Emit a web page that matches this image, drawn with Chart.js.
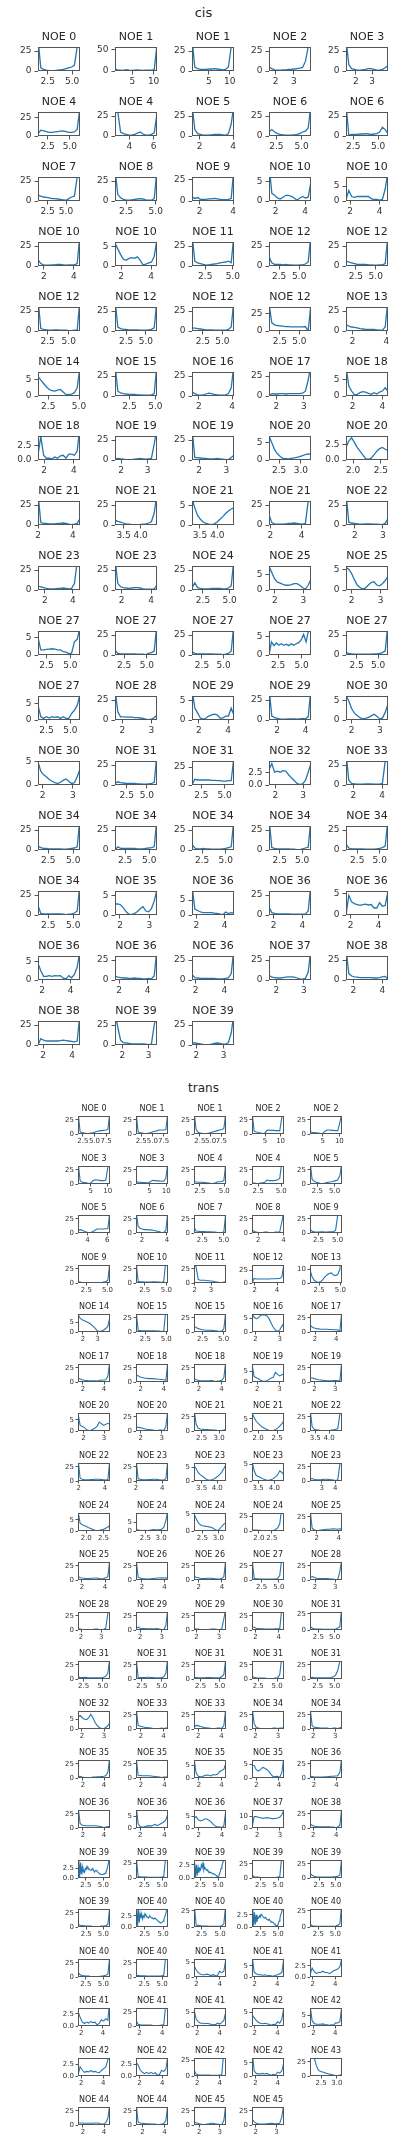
<!DOCTYPE html>
<html>
<head>
<meta charset="utf-8">
<script src="https://cdn.jsdelivr.net/npm/chart.js@4.4.1/dist/chart.umd.min.js"></script>
<style>
  html, body { margin: 0; padding: 0; background: #fff; overflow: hidden; }
  #page { position: relative; width: 407px; height: 2152px; overflow: hidden; background: #fff; }
  .sup { position: absolute; left: 0; width: 407px; text-align: center; font-family: "DejaVu Sans", sans-serif; color: #262626; line-height: 16px; }
  canvas { position: absolute; }
</style>
</head>
<body>
<div id="page">
  <div class="sup" style="top:5px;font-size:13px">cis</div>
  <div class="sup" style="top:1080px;font-size:12px">trans</div>
</div>
<script>
// ---------- cis ----------
const cisTitles = [0,1,1,2,3, 4,4,5,6,6, 7,8,9,10,10, 10,10,11,12,12, 12,12,12,12,13, 14,15,16,17,18,
  18,19,19,20,20, 21,21,21,21,22, 23,23,24,25,25, 27,27,27,27,27, 27,28,29,29,30, 30,31,31,32,33,
  34,34,34,34,34, 34,35,36,36,36, 36,36,36,37,38, 38,39,39];

const cisXRange = [[1.5,5.8],[0.9,10.8],[1.0,11.0],[1.63,3.94],[1.4,3.98],
  [1.42,6.15],[2.8,6.28],[1.54,4.06],[1.77,5.93],[1.77,6.0],
  [1.2,6.9],[1.56,5.11],[1.54,4.06],[1.54,4.41],[1.73,4.56],
  [1.61,4.41],[1.6,4.4],[1.3,5.1],[1.25,6.46],[1.25,6.54],
  [1.37,6.33],[1.1,6.4],[1.1,6.5],[1.1,6.5],[1.61,4.1],
  [1.67,5.08],[1.1,5.16],[1.58,4.12],[1.73,3.26],[1.56,4.38],
  [1.59,4.41],[1.77,3.35],[1.74,3.28],[2.27,3.23],[1.87,2.63],
  [2.0,4.41],[3.25,4.48],[3.27,4.48],[1.91,4.6],[1.68,3.18],
  [1.51,4.51],[1.55,4.39],[1.47,5.41],[1.79,3.27],[1.81,3.25],
  [1.61,6.0],[1.51,6.1],[1.35,6.19],[1.54,6.0],[1.27,6.15],
  [1.61,6.0],[1.74,3.2],[1.52,4.41],[1.44,4.38],[1.8,3.29],
  [1.85,3.24],[1.04,6.25],[1.5,6.0],[1.77,3.28],[1.5,4.4],
  [1.47,5.68],[1.46,5.8],[1.44,5.87],[1.31,5.98],[1.25,5.92],
  [1.47,5.68],[1.83,3.26],[1.69,4.66],[1.67,4.61],[1.67,4.66],
  [1.72,4.66],[1.72,4.66],[1.74,4.68],[1.73,3.26],[1.5,4.39],
  [1.65,4.54],[1.72,3.32],[1.84,3.38]];

const cisXTicks = [[2.5,5],[5,10],[5,10],[2,3],[2,3],
  [2.5,5],[4,6],[2,4],[2.5,5],[2.5,5],
  [2.5,5],[2.5,5],[2,4],[2,4],[2,4],
  [2,4],[2,4],[2.5,5],[2.5,5],[2.5,5],
  [2.5,5],[2.5,5],[2.5,5],[2.5,5],[2,4],
  [2.5,5],[2.5,5],[2,4],[2,3],[2,4],
  [2,4],[2,3],[2,3],[2.5,3],[2,2.5],
  [2,4],[3.5,4],[3.5,4],[2,4],[2,3],
  [2,4],[2,4],[2.5,5],[2,3],[2,3],
  [2.5,5],[2.5,5],[2.5,5],[2.5,5],[2.5,5],
  [2.5,5],[2,3],[2,4],[2,4],[2,3],
  [2,3],[2.5,5],[2.5,5],[2,3],[2,4],
  [2.5,5],[2.5,5],[2.5,5],[2.5,5],[2.5,5],
  [2.5,5],[2,3],[2,4],[2,4],[2,4],
  [2,4],[2,4],[2,4],[2,3],[2,4],
  [2,4],[2,3],[2,3]];

const cisYTicks = [[0,25],[0,50],[0,25],[0,25],[0,25],
  [0,25],[0,25],[0,25],[0,25],[0,25],
  [0,25],[0,25],[0,25],[0,5],[0,5],
  [0,25],[0,5],[0,25],[0,25],[0,25],
  [0,25],[0,25],[0,25],[0,25],[0,25],
  [0,5],[0,25],[0,25],[0,25],[0,5],
  [0,2.5],[0,25],[0,25],[0,5],[0,2.5],
  [0,25],[0,25],[0,5],[0,25],[0,25],
  [0,25],[0,25],[0,25],[0,5],[0,5],
  [0,5],[0,25],[0,25],[0,5],[0,25],
  [0,5],[0,25],[0,5],[0,25],[0,5],
  [0,5],[0,25],[0,25],[0,2.5],[0,25],
  [0,25],[0,25],[0,25],[0,25],[0,25],
  [0,25],[0,5],[0,5],[0,25],[0,5],
  [0,5],[0,25],[0,25],[0,25],[0,25],
  [0,25],[0,25],[0,25]];

const cisYMax = [30,55,30,30,30, 32.7,30,30,30,30, 30,30,28,6.3,8, 30,6.3,30,30,30,
  30,30,30,35,30, 7.3,30,30,30,7.3, 4.06,30,30,7,3.8, 30,30,6.3,30,30,
  30,30,30,7.6,5.8, 6.9,30,30,6.4,30, 7.4,30,6.1,30,6.3, 5.2,30,33.5,4.7,30,
  30,30,30,30,30, 30,6.1,8,30,5.5, 6.5,30,30,30,30, 30,30,30];

const cisCurves = [
  [40,4,2,1,0.5,0.5,0.5,1,1.5,2,3,4,5,7,30,30],
  [5,2,2,1.5,3,2,1.5,2,2.5,2,1.5,2,2,2,3,60],
  [40,5,3,2,2,2,2.5,2.5,3,2.5,2,1.5,2,5,30,30],
  [5,3,1.5,1,1,1.5,1.5,2,2,2.5,3,3.5,4.5,12,30,30],
  [40,8,3,2,1,1,1.5,2,3,3,2,1,1,2,4,7],
  [3,8,7,6,5,5,5.5,6,6.5,7,6,5,5,5.5,9,40],
  [40,30,5,3,2,1,1,2,3.5,5,2.5,1,1,2,4,28],
  [40,8,3,2,1,1,1,1.5,2,2,2,1.5,1,3,15,40],
  [5,8,5,3,2,1.5,1,1,1,1.5,2,3,5,6,10,40],
  [40,1,2,2,2,2.5,2.5,3,2.5,2,2.5,3,5,11,8,3],
  [7,6,5,4.5,4,3,3,2.5,2,1.5,1,3,5,6,30,30],
  [40,8,4,2,1,1,1.5,2,2.5,3,2.5,1.5,1,1,3,40],
  [5,3,4,2,2,2,2.5,2.5,3,2.5,2,1.5,1.5,2,3,40],
  [10,2,1.5,0.8,0.5,1,1.5,1.5,1.2,0.8,0.2,0.8,1.2,0.8,1,5],
  [0.5,3.5,1.5,1.2,1.5,1.5,1.5,1.5,1.5,0.8,0.5,0.5,0.3,0.5,4,10],
  [8,3,1.5,1,1,1.5,1.5,2,2,1.5,1,1.5,1.5,1.5,3,40],
  [6,4.5,3,1.8,1.5,2,2.2,2,2.4,1.5,0.3,0.5,0.8,1,2.5,7],
  [40,6,4,3,2,1,1.5,2,2.5,3,4,4.5,5,6,4,40],
  [12,4,2,2,2,1.5,2,1.5,1.5,1,1,1.5,1.5,2.5,5,40],
  [6,5,4,3,2,2,2,2,1.5,1.5,1,1,1.5,1.5,3,40],
  [40,3,2,1.5,1,1,1.5,1.5,1,1,1,0.5,0.5,1,1.5,40],
  [40,5,3,2,2,1.5,1.5,1.5,1.5,1,1,1,1.5,2,4,40],
  [4,3.5,3,2.5,2,1.5,1.5,1.5,1,1,1,1,1,2,5,40],
  [40,12,9,8,7.5,7,6.5,6.5,6,6,6,6,6,6.5,0,40],
  [8,6,5,4.5,4,3,2.5,2,2,2,2,1.5,1,1,5,40],
  [6,4.8,3.8,2.8,2,1.6,1.5,1.8,2,1.2,0.4,0.5,0.6,1,2.5,9],
  [40,6,4,3,2.5,2,2,2,1.5,1.5,1,1,1,1.5,3,40],
  [5,3,1.5,1,1.5,2.5,3.5,3,2,1.5,1,1,1.5,3,10,40],
  [0,3,2.5,2.5,3,3,2.5,3,3,3,3,3,3.5,6,20,40],
  [9,3,1.5,0.4,0.5,1,1.3,1.2,0.8,0.5,1,0.6,1.2,1.5,2.5,1.5],
  [0.8,4,0.8,0.3,0.3,0.2,0.5,0.3,0.7,0.8,0.3,1,1,0.8,1.5,6],
  [1,2,1.5,1,0.5,0.5,0.5,1,1.5,2,1.5,1,1.5,2,20,40],
  [40,3,3,2.5,2,2,1.5,1.5,1.5,2,1.5,1,0.5,0.5,3,6],
  [7,5,3,1.8,1,0.5,0.4,0.3,0.5,0.6,0.8,1,1.3,1.6,1.8,1.7],
  [2,3,3.5,2.8,2,1.4,0.8,0.2,0.1,0.3,0.8,1.4,1.8,2,1.7,1.5],
  [40,3,2,2,1.5,1.5,1.5,2,2,2.5,2,1,0.5,1,2,8],
  [6,4.5,3.5,2.5,1.5,1,0.5,0.3,0.3,0.5,1,1.5,2.5,4,15,40],
  [7,4.5,2.5,1.5,0.8,0.4,0.2,0.1,0.3,0.8,1.5,2.2,3,3.7,4.2,4.5],
  [13,3,1.5,1,1,1,1.5,2,2,2.5,2,1.5,1,2,30,40],
  [40,3.5,2.5,2,1.5,1,1,1.5,1.5,1.5,1.2,1,0.8,0.5,2,8],
  [5,4,3,2,1.5,1.5,1.5,2,2,2.5,2,1.5,2,8,35,40],
  [40,8,4,3,2.5,2,2.5,3,3,2.5,1.5,1,1,1,1.5,6],
  [3,9,3,2,1.5,1.5,1.5,2,2,2,2,1.5,1.5,2.5,5,40],
  [7.5,5.5,3.5,2.5,2.2,1.8,1.5,1.5,1.7,2,2,1.5,0.7,0.3,1.5,3.5],
  [5.5,5,4,2.5,1.2,0.6,0.2,0.5,1.2,1.8,2,1.2,1,1.5,2.3,3.2],
  [5,1.5,1.5,1.6,1.7,1.8,1.7,1.5,1.5,1,0.8,0.4,0.5,3.8,4.5,8],
  [6,2,1.5,1.5,1.5,1.5,1.5,1.5,1,1,1,0.5,2,3,5,40],
  [4,2,1.5,1.5,1.5,1.5,1.5,1.5,1,1,1,0.5,1,2,5,40],
  [0,3.5,2.5,3.2,2.6,3,2.6,2.9,2.5,3,2.6,3,3.3,4,5.5,3.5,6.5,7],
  [3,2,1.5,1,1,1,1,1,1,1,1.5,1.5,2,3,5,40],
  [4.5,1,0.5,1,0.6,1,0.8,1,0.5,1,0.5,0.5,2,3,4.5,8],
  [40,10,4,4,3.5,3.5,3.5,3,3,2.5,2,1,0.5,1,3,6],
  [8,3,1.8,0.5,0.2,0.5,1,1.3,1.5,1.3,0.5,0.5,1,1,3,1.2],
  [40,5,3,2,1,1,1,1.5,1.5,1.5,1,1.5,2,1.5,4,40],
  [6.5,5,3,1.8,1.2,0.6,0.3,0.4,0.7,1.1,1.5,1,0.3,0.5,2,4.2],
  [5,3,2.2,1.8,1.2,0.8,0.5,0.3,0.6,1,1.3,0.8,0.3,0.5,1.8,3.5],
  [2,4,3,2.5,2,2,2,2,1.5,1.5,1,1,1.5,2,3,40],
  [0,8,7,7,7,7,7,6.5,6.5,6,6,5.5,5.5,6,6,40],
  [3,4.2,2.5,2.7,2.5,2.8,2.7,2,1.4,0.9,0.3,0.1,0.2,0.9,2.5,4.2],
  [40,6,2,1.5,1,1,1,1.5,1.5,1.5,1.2,1,1,2,30,40],
  [5,3,2,2,1.5,1.5,1.5,1.5,1.5,1,1,1.5,2,2.5,4,40],
  [0,4,2,2,2,2,2,2,1.5,1.5,1.5,2,2.5,3,4,40],
  [7,2.5,1.5,1.5,2,1.5,1.5,1,1,1,1,1.5,2,3,4,40],
  [40,3,2,1.5,1.5,1.5,1.5,1.5,1,1,0.5,0.5,1.5,2.5,3.5,40],
  [7,2.5,1.5,1.5,1.5,1.5,1.5,1,1,1,1,1.5,2,3,5,40],
  [12,2,1.5,1.5,1.5,1.5,1.5,1.5,1.5,1,0.5,1,1.5,2.5,5,40],
  [2.8,2.8,2.6,1.8,0.8,0.2,0.1,0.4,0.9,1.6,2.1,1,0.8,1.6,3.5,6.5],
  [10,2,1.5,1,0.8,0.8,0.8,0.8,0.6,0.5,0.3,0.1,1,0.5,0.8,0.6],
  [10,3,2,1.5,1.5,1.5,1.5,1.5,1,1,1,1,1,1,5,40],
  [0,4.5,3,2.6,2.4,2.2,2.4,2.5,2.3,2.4,1.6,1.6,2.8,2,2.2,5.5],
  [4.5,2.5,1,1,1.2,1,1.2,1.1,1.2,0.5,0.3,1.2,0.6,1.5,3.5,8],
  [5,3.5,3,2.5,2.5,2,2,2.5,2,2,1.5,1.5,2,1.5,5,40],
  [7,3,2.5,2,2,2,2,2,2,1.5,1.5,1.5,2,2.5,8,40],
  [6,3.5,3,2.5,2.5,3,3.5,4,4,3.5,2.5,1.5,1,2,10,40],
  [40,8,5,4,3.5,3,3,3,3,3,2.5,2.5,3,4,4.5,1],
  [0,8,6,5,5,5,5,5,5.5,6,5.5,5,4.5,4,5,40],
  [40,22,6,3,2.5,2,1.5,1.5,1.5,1.5,1.5,1,0.5,1,25,40],
  [3,2.5,2,1.5,0.8,0.5,0.5,1,2,2.5,2,1,1,3,15,40]
];

// ---------- trans ----------
const transTitles = [0,1,1,2,2, 3,3,4,4,5, 5,6,7,8,9, 9,10,11,12,13, 14,15,15,16,17, 17,18,18,19,19,
  20,20,21,21,22, 22,23,23,23,23, 24,24,24,24,25, 25,26,26,27,28, 28,29,29,30,31, 31,31,31,31,31,
  32,33,33,34,34, 35,35,35,35,36, 36,36,36,37,38, 39,39,39,39,39, 39,40,40,40,40, 40,40,41,41,41,
  41,41,41,42,42, 42,42,42,42,43, 44,44,45,45];

const transXRange = [[1.43,8.36],[1.33,8.5],[1.13,8.6],[0.78,11.1],[1.12,10.8],
  [1.18,10.7],[0.94,10.5],[1.89,5.18],[1.83,5.3],[1.44,6.07],
  [3.03,6.27],[1.53,4.08],[1.52,5.27],[1.51,4.05],[1.4,5.57],
  [1.52,5.3],[1.49,5.2],[1.96,3.91],[1.75,4.62],[1.43,5.2],
  [1.66,3.86],[1.38,5.21],[1.46,5.29],[1.86,3.17],[1.52,4.54],
  [1.53,4.56],[1.58,4.37],[1.57,4.4],[1.77,3.2],[1.79,3.32],
  [1.73,3.29],[1.77,3.3],[2.28,3.2],[1.84,2.68],[3.31,4.47],
  [1.95,4.38],[2.0,4.45],[3.26,4.28],[3.31,4.3],[2.13,4.5],
  [1.76,2.69],[2.2,3.22],[2.24,3.24],[1.74,2.96],[1.38,4.31],
  [1.66,4.43],[1.48,4.31],[1.58,4.36],[1.1,5.75],[1.75,3.33],
  [1.85,3.44],[1.81,3.29],[1.89,3.31],[1.71,4.44],[1.2,6.15],
  [1.77,5.95],[1.75,5.79],[1.64,5.82],[1.68,5.91],[1.35,6.1],
  [1.82,3.27],[1.57,4.4],[1.64,4.39],[1.85,3.26],[1.85,3.31],
  [1.53,4.56],[1.59,4.29],[1.57,4.4],[1.6,4.46],[1.64,4.5],
  [1.53,4.56],[1.66,4.29],[1.58,4.36],[1.77,3.18],[1.71,4.5],
  [1.37,5.95],[1.32,5.83],[1.6,6.1],[1.27,5.83],[1.15,5.9],
  [1.3,5.96],[1.32,5.66],[1.46,5.8],[1.27,5.83],[1.25,6.0],
  [1.37,5.94],[1.32,5.83],[1.79,4.54],[1.75,4.6],[1.76,4.6],
  [1.71,4.65],[1.69,4.52],[1.72,4.55],[1.75,4.58],[1.69,4.62],
  [1.72,4.6],[1.69,4.52],[1.72,4.55],[1.69,4.55],[2.15,3.16],
  [1.53,4.56],[1.4,4.32],[1.75,3.31],[1.82,3.37]];

const transXTicks = [[2.5,5,7.5],[2.5,5,7.5],[2.5,5,7.5],[5,10],[5,10],
  [5,10],[5,10],[2.5,5],[2.5,5],[2.5,5],
  [4,6],[2,4],[2.5,5],[2,4],[2.5,5],
  [2.5,5],[2.5,5],[2,3],[2,4],[2.5,5],
  [2,3],[2.5,5],[2.5,5],[2,3],[2,4],
  [2,4],[2,4],[2,4],[2,3],[2,3],
  [2,3],[2,3],[2.5,3],[2,2.5],[3.5,4],
  [2,4],[2,4],[3.5,4],[3.5,4],[3,4],
  [2,2.5],[2.5,3],[2.5,3],[2,2.5],[2,4],
  [2,4],[2,4],[2,4],[2.5,5],[2,3],
  [2,3],[2,3],[2,3],[2,4],[2.5,5],
  [2.5,5],[2.5,5],[2.5,5],[2.5,5],[2.5,5],
  [2,3],[2,4],[2,4],[2,3],[2,3],
  [2,4],[2,4],[2,4],[2,4],[2,4],
  [2,4],[2,4],[2,4],[2,3],[2,4],
  [2.5,5],[2.5,5],[2.5,5],[2.5,5],[2.5,5],
  [2.5,5],[2.5,5],[2.5,5],[2.5,5],[2.5,5],
  [2.5,5],[2.5,5],[2,4],[2,4],[2,4],
  [2,4],[2,4],[2,4],[2,4],[2,4],
  [2,4],[2,4],[2,4],[2,4],[2.5,3],
  [2,4],[2,4],[2,3],[2,3]];

const transYTicks = [[0,25],[0,25],[0,25],[0,25],[0,25],
  [0,25],[0,25],[0,25],[0,25],[0,25],
  [0,25],[0,25],[0,25],[0,25],[0,25],
  [0,25],[0,25],[0,25],[0,25],[0,10],
  [0,5],[0,25],[0,25],[0,5],[0,25],
  [0,25],[0,25],[0,25],[0,5],[0,25],
  [0,5],[0,25],[0,25],[0,5],[0,25],
  [0,25],[0,25],[0,5],[0,5],[0,25],
  [0,5],[0,5],[0,5],[0,25],[0,25],
  [0,25],[0,25],[0,25],[0,25],[0,25],
  [0,25],[0,25],[0,25],[0,25],[0,25],
  [0,25],[0,25],[0,25],[0,25],[0,25],
  [0,5],[0,25],[0,25],[0,25],[0,25],
  [0,25],[0,25],[0,5],[0,5],[0,25],
  [0,25],[0,5],[0,5],[0,10],[0,25],
  [0,2.5],[0,25],[0,2.5],[0,25],[0,25],
  [0,25],[0,2.5],[0,25],[0,2.5],[0,25],
  [0,25],[0,25],[0,5],[0,5],[0,2.5],
  [0,2.5],[0,25],[0,5],[0,5],[0,5],
  [0,2.5],[0,2.5],[0,25],[0,5],[0,25],
  [0,25],[0,25],[0,25],[0,25]];

const transYMax = [32,32,32,32,32, 32,32,32,32,32, 32,32,32,32,32, 32,32,32,36,13.4,
  9.3,32,32,6.75,32, 32,32,32,8.3,32, 8,32,32,7.4,32, 32,32,6.5,5.3,32,
  8.1,10.4,5.2,30,32, 32,32,32,32,32, 32,32,32,32,28, 32,32,32,32,32,
  9.6,32,32,32,32, 32,32,7.2,6.5,32, 32,7.6,7.6,15,32, 4.65,31,3.4,32,32,
  32,4.06,28,3.7,28, 32,32,6.2,8.1,4.06, 3.7,32,6.5,6.5,8.5, 3.9,3.9,29,6.9,32,
  32,32,32,32];

const transCurves = [
  [40,4,2,1.5,1,1,1.5,2,3.5,5,5.5,6,6.5,7,8,40],
  [40,4,2,1.5,1,1,1.5,2.5,4,5,6,7,7,7,8,40],
  [40,8,3,1.5,1,0.5,1,1.5,2.5,4,5,6,7,8,10,40],
  [40,5,3.5,3,1.5,1,1.5,6.5,7,6.5,6.5,6,6,5.5,30,40],
  [4,3,2.5,2,1.5,1,1,5,7,7,6.5,6.5,6,6,20,40],
  [40,6,3,2.5,2,1,1.5,6,7.5,7,6.5,6,6,6.5,30,40],
  [5,3,3,2.5,2.5,2,2,5,6.5,6,5.5,5.5,5,5,10,40],
  [5,3.5,3,3,3,2.5,2,1.5,1,1,2,4,4,4.5,6,40],
  [2,1.5,1,1,1.5,2,3,7,6,6,6,6.5,7.5,10,40,40],
  [40,8,5,3,2,1,1,1.5,2.5,3.5,4,5,6,7,15,40],
  [5,6,5,3,1.5,0.5,1,2.5,5,7,7,7,7,7.5,8,40],
  [40,12,8,7,6,6,5.5,5.5,5,4,3,2,1,0.5,5,40],
  [10,3.5,3,2.5,2.5,2.5,2,2,2,1.5,1.5,1,1,0.5,2,40],
  [6,3,1.5,1,1,1,1.5,1.5,1,1,1,1.5,1.5,2,20,40],
  [7,3,2,1.5,1.5,2,2,1.5,1.5,2,2,2,5,32,32,32],
  [3,1.5,1,1,1,1,1,1,1,1,1,1,1.5,2,5,40],
  [40,3,2,2,1.5,1.5,1.5,1.5,2,2,1.5,1.5,1,3,40,40],
  [40,28,6,5,5,5,4,4,3.5,3,2,1.5,1,0.5,1.5,3],
  [0,9,8,8,8,8,8,8,8,8.5,8.5,8.5,9,9,12,40],
  [10,4.5,2,1,0.5,1,2.5,4.5,6,7,7.5,6,5.5,6.5,10,40],
  [9,7.2,6.3,5.8,5.3,4.8,4,3,2,0.6,0.3,0.5,1,1.8,3,8],
  [40,3,2.5,2,2,2,2,2,2,2,1.5,1.5,1,1.5,40,40],
  [10,8,6,5,4,3.5,3,3,3,2.5,2,1.5,1,1.5,6,40],
  [7,5.5,5,5.3,6.2,6.5,6.4,6,5,3.3,1.8,0.7,0.2,0.8,2.2,3.5],
  [12,9,7,6,5.5,5,5,5,5,4.5,4.5,4,4,3.5,2,40],
  [7,5.5,4,3,2.5,2,2,2,2,1.5,3,3,3.5,4,10,40],
  [12,11,9,8,7,6.5,6,6,6,5.5,5,5,4.5,4,3,40],
  [6,4,3,2,2,2,2,2,2.5,2,1,1.5,2,3,8,40],
  [8,2.5,2,1.5,0.8,0.4,0.3,0.6,1.2,1.8,2.2,4.5,3.5,2.8,3.3,3.8],
  [8,7,6,5,4,3.5,3,2.5,2,2,2,2.5,2.5,2,2,40],
  [8,2.5,2,1.5,0.6,0.2,0.3,0.8,1.3,2.2,4,3.2,2.5,3,3.3,3.6],
  [7,6.5,6,5,4,3,2.5,2,1.5,1,1,1.5,1.5,1,8,40],
  [40,12,5,3.5,3,2.5,2.5,2,2,1.5,1.5,1,1,1,1.5,2.5],
  [7.5,5.5,4,3,2.2,1.5,1,0.6,0.3,0.1,0.2,0.6,1.2,2,3,4.3],
  [40,8,3,2,1.5,1,1,1,1,1,1.5,2,3,4,30,40],
  [40,5,3,2,2,2,2.5,2.5,3,3,3,2.5,2,1.5,3,40],
  [40,4,3,2,2,2,2.5,2.5,3,3,2.5,2,1.5,1.5,4,40],
  [5.5,4.5,3,2.2,1.7,1.1,0.5,0.3,0.3,0.6,1.1,1.6,2.3,3.2,4.5,6],
  [6,3,1.6,1.3,1,0.7,0.4,0.2,0.2,0.4,0.7,1.2,1.8,3,2.5,1.7],
  [3,4.5,3,2,2,2,2.5,3,3,2.5,2,1.5,1,2,30,40],
  [9,3.5,2.8,2.4,2,1.5,1.1,0.7,0.3,0.2,0.3,0.5,0.8,1.2,1.8,2.6],
  [1,0.5,0.4,0.3,0.4,0.3,0.4,0.6,0.8,0.7,0.7,0.8,1,2,6,12],
  [5,3.5,2.4,1.8,1.5,1.4,1.3,1.2,1.1,0.8,0.4,0.1,0.6,1.3,2,2.4],
  [1.5,1.5,1.5,1,1,0.5,0.5,0.5,0.5,0.5,1,2.5,5,12,40,40],
  [40,5,2,1,1,1.5,2,2.5,3,3,3.5,4,3.5,3,4,3],
  [6,4.5,3.5,3,2.5,2.5,3,3,3.5,3.5,2.5,2,2.5,4,6,40],
  [40,5,3.5,2.5,2,1.5,1.5,2,2.5,3,3.5,3.5,4,3.5,4,2.5],
  [6,5,4,3,2.5,2.5,3,3,3,2.5,2,1.5,1.5,3,6,40],
  [40,3,2,2,1.5,1.5,1.5,1.5,1.5,1.5,1.5,1.5,2.5,8,40,40],
  [4,6,5,3,2.5,2.5,2.5,2.5,2.5,2,1.5,1.5,1,1,15,40],
  [2,1.5,1,1,1,1,1,1,1.5,1.5,1,0.5,1,3,30,40],
  [4,5,3,2.5,2.5,2,2,2,2,2,2.5,1.5,1,0.5,8,40],
  [2,1.5,1.5,1,1,1,1,1,1.5,1.5,1.5,1,1,2,20,40],
  [5,5,3,2.5,2,2,1.5,1.5,1.5,1.5,1.5,2,2,2,40,40],
  [5,3,2,1.5,1.5,1.5,1,1,1,1,1,1,1.5,3,5,40],
  [4,2.5,2.5,3,2.5,2,2,2,2,2,2,2,3,5,10,40],
  [40,3,2.5,2.5,2.5,3,3,2.5,2.5,2,2,2,2.5,4,10,40],
  [3,2.5,2,2,2,2,2.5,2.5,2.5,2,2,2,2.5,4,8,40],
  [5,3,2,1.5,1.5,1.5,1.5,1,1,1,1,1.5,2,8,40,40],
  [2,3,2,2,2,2,2,2,2,2,2.5,4,7,15,32,32],
  [6.5,7.2,6,5.2,5,6,7.8,6,3.5,1.8,0.8,0.3,0.2,0.8,1.8,3.3],
  [40,6,5,4,3,2.5,2,1.5,1,1,1,1,1.5,1,1.5,3],
  [3,6.5,6,4.5,3.5,2.5,2,1.5,1,1,1,1.5,1.5,1,6,40],
  [40,10,2.5,1.5,1,1,1,1,1,1,1.5,1.5,1,1.5,1.5,2],
  [40,6,3,2.5,2,1.5,1.5,1.5,1.5,1,1,1.5,1.5,1,2,4],
  [3,2.5,1.5,1,1,1,1,1.5,1.5,2,2,2.5,3,4,10,40],
  [40,5,4.5,4,4,4,4,3.5,3,2.5,2,1.5,1,1.5,1.5,3],
  [8,2,0.7,0.5,0.6,1,1.2,1.1,0.8,1.4,1.2,1.5,2.5,3,3.5,6],
  [4.5,4.5,3,2.5,3,3.8,3.5,3,2.3,1.2,0.4,0.5,0.6,0.2,2,8],
  [3,2.5,1.5,1.5,1.5,1.5,1.5,2,2,2.5,3,3,3.5,4,10,40],
  [40,8,5,4.5,4,4,4,4,4,3.5,3,2,1,1.5,2.5,2],
  [10,1.8,0.6,0.3,0.5,0.8,1,0.8,1.2,1.5,1,1.5,2,2.5,3.5,6],
  [4,4.8,3.5,3,3.3,3.8,3.8,3.3,2.6,1.5,0.8,0.4,0.5,0.1,1,8],
  [0,9.5,9.5,9,8.5,8,8.3,8.6,8.3,8,7.8,8,8.3,9,11,15],
  [7,5,3,2.5,2,2,2,2,2,2,1.5,1.5,1,1.5,5,40],
  [0.5,4.5,0.2,4,1,3,1.5,2,1.5,2.5,2.2,3,2.5,2.5,2.2,2,2,2.3,2.5,2,
   1.5,1.8,2,1.8,1.5,1.3,1.2,1,1,0.9,0.9,1,1,1.2,1.5,2,2.8,3.8,5,6],
  [40,3,2,1.5,1.5,1.5,1,1,1,1,1,1,1.5,2.5,40,40],
  [0.3,2.8,0.2,2.5,0.5,2,1,1.8,1.5,2.5,2,2.8,1.5,2,1.8,1.5,1.6,1.3,1.2,1,
   1.1,1,0.9,0.8,0.8,0.7,0.6,0.5,0.3,0.2,0.3,0.8,1.2,1.8,2.3,2.8,3.3,4,5,6],
  [6,2,1.5,1.5,1,1,1,1,1,1,1,1,1.5,2,40,40],
  [8,5,3,2,1.5,1.5,1.5,1.5,1.5,1.5,1.5,2,2,3,5,40],
  [5,3,2.5,2,1.5,1.5,1.5,1,1,1,1,1.5,1.5,2,5,40],
  [0.5,4,0.3,3.8,1,3,2,3,1.8,2.5,2.2,3,2.6,2.4,2.2,2,2.3,2.5,2.2,2,
   2.1,1.8,1.9,2,1.9,1.7,1.5,1.3,1.2,1,0.9,1,1.1,1.3,1.8,2.2,2.8,3.5,4,5],
  [40,3,2.5,2,1.5,1.5,1.5,1,1,1,1,1,1,2,5,40],
  [0.2,3.5,0.3,3,0.5,2.5,1,2,1.8,2.3,2,2.6,2.4,2.2,2,1.8,2,1.8,1.6,1.5,
   1.4,1.6,1.3,1.1,1,1,0.9,0.7,0.5,0.4,0.2,0.3,0.6,1.2,1.8,2.5,3,3.5,4,5],
  [5,2,1.5,1,1,1,1,1,1,1,1,1,1.5,2.5,5,40],
  [8,4,2.5,2,1.5,1.5,1,1,1,1,1,1.5,2,3,5,40],
  [3,2.5,2,2,2,1.5,1.5,1.5,1.5,1.5,1.5,1.5,2,3,40,40],
  [4,2.5,1.5,1,0.8,0.8,1,0.8,0.5,0.8,0.4,0.5,2,1.5,2,6.5],
  [10,2.2,1.5,1,1,0.8,1,0.8,0.7,0.5,0.3,0.8,1,1.5,2,9],
  [0.5,2,1.2,0.8,1,1,1.3,1,1,0.8,1,1.4,1.6,1.8,2.3,4.5],
  [3,1.8,0.8,0.5,0.8,0.6,0.9,0.7,0.8,0.2,0.6,1.3,1,1.5,1.2,6],
  [10,3,2,1.5,1.5,1.5,1.5,1.5,1,1,1,1,1.5,2,40,40],
  [6,2.5,1.5,1,1,0.8,1,0.8,0.6,0.4,0.5,1,0.7,1.2,2,5.5],
  [4,3,2,1.3,1,0.8,1,0.8,0.6,0.3,0.6,0.5,1.5,1,2.5,7],
  [10,2.5,1.2,0.8,0.8,0.8,1,0.7,0.6,0.3,0.6,0.4,1.5,1.4,2,10],
  [0.2,2,1.3,0.8,1,0.9,1.2,0.9,1,0.8,0.7,1.2,1.6,1.9,3.5,6],
  [3,2.4,1.3,0.8,0.5,0.8,0.5,0.8,0.5,0.7,0.2,0.3,1.2,1,1.5,4.5],
  [10,3,2,1.5,1.5,1.5,1.5,1.5,1,1,1,1,1.5,2,40,40],
  [10,2,1,0.8,0.8,1,0.8,1,0.6,0.3,0.6,0.4,1.5,1.1,2,5.5],
  [32,32,32,18,10,8,7,5.5,4.5,3.5,2.5,1.5,1,0.8,1.5,2.5],
  [4,3.5,3.5,3,3,3,3,3,3.5,3.5,3,1.5,1.5,4,12,40],
  [40,5,3.5,3,2.5,2,2,1.5,1.5,1.5,1,1,1.5,2.5,8,40],
  [5,4,2.5,1.5,1,1,1.5,2,3,3,2,1.5,1,1,8,40],
  [10,6,3,2,1.5,1.5,1.5,2,2.5,3,2.5,2,2.5,3,15,40]
];

// ---------- layout ----------
const LAYOUT = {
  cis:   { x0: 38, dx: 76.9, y0: 47,   dy: 64.9,  w: 42, h: 24, ml: 32, mr: 14, mt: 18, mb: 16,
           title: 11, tOff: 9.7, tick: 9, tl: 3.5, xpad: 1.4, ypad: 3, line: 1.3 },
  trans: { x0: 78, dx: 58.1, y0: 1116, dy: 49.57, w: 32, h: 18, ml: 26, mr: 12, mt: 14, mb: 12,
           title: 8, tOff: 7, tick: 7, tl: 2.5, xpad: 0, ypad: 1.5, line: 1.1 }
};

const FONT = "'DejaVu Sans', sans-serif";
const page = document.getElementById('page');

const frame = {
  id: 'frame',
  afterDraw(chart) {
    const { ctx, chartArea: a } = chart;
    ctx.save();
    ctx.strokeStyle = '#555';
    ctx.lineWidth = 1;
    ctx.strokeRect(a.left + 0.5, a.top + 0.5, a.right - a.left - 1, a.bottom - a.top - 1);
    ctx.restore();
  }
};

function fmtFor(vals) {
  const dec = vals.some(v => Math.round(v) !== v) ? 1 : 0;
  return v => Number(v).toFixed(dec);
}

function makePanel(L, i, title, xr, xt, yt, ymax, ys) {
  const col = i % 5, row = Math.floor(i / 5);
  const bx = Math.round(L.x0 + col * L.dx);
  const by = Math.round(L.y0 + row * L.dy);
  const W = L.ml + L.w + L.mr, H = L.mt + L.h + L.mb;
  const cv = document.createElement('canvas');
  cv.width = W; cv.height = H;
  cv.style.left = (bx - L.ml) + 'px';
  cv.style.top = (by - L.mt) + 'px';
  cv.style.width = W + 'px';
  cv.style.height = H + 'px';
  page.appendChild(cv);

  const n = ys.length;
  const pts = ys.map((y, k) => ({ x: xr[0] + (xr[1] - xr[0]) * k / (n - 1), y }));
  const lh = L.title * 1.2;
  const pt = L.mt - L.tOff - lh / 2;
  const pb = L.mt - lh - pt;
  const fx = fmtFor(xt), fy = fmtFor(yt);
  const tickFont = { family: FONT, size: L.tick };
  const grid = { display: true, drawOnChartArea: false, drawTicks: true, tickLength: L.tl, tickColor: '#555', tickWidth: 1 };

  new Chart(cv, {
    type: 'line',
    data: { datasets: [{ data: pts, borderColor: '#1f77b4', borderWidth: L.line, pointRadius: 0, tension: 0, fill: false }] },
    options: {
      responsive: false,
      animation: false,
      events: [],
      devicePixelRatio: 1,
      layout: { padding: { left: 0, right: L.mr, top: 0, bottom: 0 } },
      plugins: {
        legend: { display: false },
        tooltip: { enabled: false },
        title: {
          display: true, text: 'NOE ' + title, fullSize: false, color: '#262626',
          font: { family: FONT, size: L.title, weight: 'normal', lineHeight: 1.2 },
          padding: { top: pt, bottom: pb }
        }
      },
      scales: {
        x: {
          type: 'linear', min: xr[0], max: xr[1],
          afterBuildTicks: s => { s.ticks = xt.map(v => ({ value: v })); },
          afterFit: s => { s.height = L.mb; s.paddingLeft = 0; s.paddingRight = 0; },
          ticks: { autoSkip: false, maxRotation: 0, minRotation: 0, padding: L.xpad, color: '#333', font: tickFont, callback: v => fx(v) },
          grid: grid,
          border: { display: false }
        },
        y: {
          type: 'linear', min: 0, max: ymax,
          afterBuildTicks: s => { s.ticks = yt.map(v => ({ value: v })); },
          afterFit: s => { s.width = L.ml; s.paddingTop = 0; s.paddingBottom = 0; },
          ticks: { autoSkip: false, padding: L.ypad, color: '#333', font: tickFont, callback: v => fy(v) },
          grid: grid,
          border: { display: false }
        }
      }
    },
    plugins: [frame]
  });
}

cisTitles.forEach((t, i) =>
  makePanel(LAYOUT.cis, i, t, cisXRange[i], cisXTicks[i], cisYTicks[i], cisYMax[i], cisCurves[i]));
transTitles.forEach((t, i) =>
  makePanel(LAYOUT.trans, i, t, transXRange[i], transXTicks[i], transYTicks[i], transYMax[i], transCurves[i]));
</script>
</body>
</html>
